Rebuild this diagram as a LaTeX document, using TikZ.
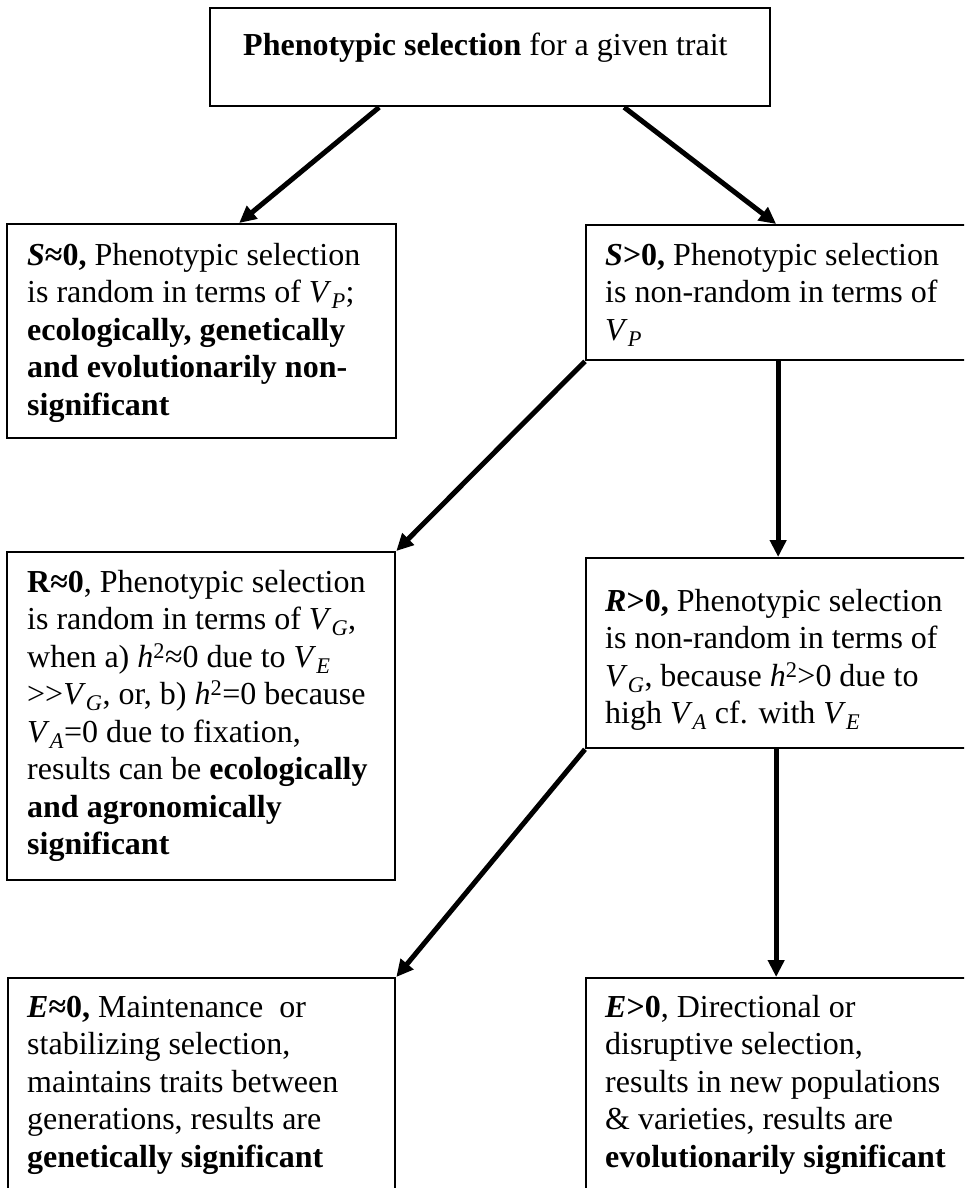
\documentclass[tikz,border=0pt]{standalone}
\usepackage{fontspec}
\setmainfont{Liberation Serif}
\usepackage{tikz}
\usetikzlibrary{arrows.meta}
\newcommand{\vsub}[2]{\textit{#1}\textsubscript{\textit{#2}}}
\newcommand{\hsq}{\textit{h}\textsuperscript{2}}

\begin{document}
\begin{tikzpicture}[x=1pt,y=1pt,yscale=-1,
    box/.style={draw, line width=2.3pt, anchor=north west, inner sep=0pt},
    txt/.style={anchor=north west, inner sep=0pt, align=left, font=\fontsize{32pt}{37.5pt}\selectfont},
    arr/.style={line width=5pt, -{Triangle[length=17pt,width=16pt]}}]
    \useasboundingbox (0,0) rectangle (964,1188);
    \clip (0,0) rectangle (964,1188);

    % Boxes
    \node[box, minimum width=560pt, minimum height=98pt] (top) at (209,7) {};
    \node[box, minimum width=389pt, minimum height=214pt] (s0) at (6,223) {};
    \node[box, minimum width=400pt, minimum height=135pt] (sg) at (585,224) {};
    \node[box, minimum width=388pt, minimum height=328pt] (r0) at (6,551) {};
    \node[box, minimum width=400pt, minimum height=190pt] (rg) at (585,557) {};
    \node[box, minimum width=387pt, minimum height=280pt] (e0) at (7,977) {};
    \node[box, minimum width=400pt, minimum height=280pt] (eg) at (585,977) {};

    % Text Node
    \node[txt] (toptxt) at (243,28.75) {\strut\textbf{Phenotypic selection} for a given trait};
    % Text Node
    \node[txt] (s0txt) at (27,238.75) {\strut\textbf{\textit{S}≈0,} Phenotypic selection\\is random in terms of \vsub{V}{P};\\\textbf{ecologically, genetically}\\\textbf{and evolutionarily non-}\\\textbf{significant}};
    % Text Node
    \node[txt] (sgtxt) at (605,238.75) {\strut\textbf{\textit{S}>0,} Phenotypic selection\\is non-random in terms of\\\vsub{V}{P}};
    % Text Node
    \node[txt] (r0txt) at (27,565.75) {\strut\textbf{R≈0}, Phenotypic selection\\is random in terms of \vsub{V}{G},\\when a) \hsq≈0 due to \vsub{V}{E}\\>{}>\vsub{V}{G}, or, b) \hsq=0 because\\\vsub{V}{A}=0 due to fixation,\\results can be \textbf{ecologically}\\\textbf{and agronomically}\\\textbf{significant}};
    % Text Node
    \node[txt] (rgtxt) at (605,584.75) {\strut\textbf{\textit{R}>0,} Phenotypic selection\\is non-random in terms of\\\vsub{V}{G}, because \hsq>0 due to\\high \vsub{V}{A} cf. with \vsub{V}{E}};
    % Text Node
    \node[txt] (e0txt) at (27,990.75) {\strut\textbf{\textit{E}≈0,} Maintenance\ \ or\\stabilizing selection,\\maintains traits between\\generations, results are\\\textbf{genetically significant}};
    % Text Node
    \node[txt] (egtxt) at (605,990.75) {\strut\textbf{\textit{E}>0}, Directional or\\disruptive selection,\\results in new populations\\\& varieties, results are\\\textbf{evolutionarily significant}};

    % Arrows
    \draw[arr] ([xshift=-111pt]top.south) -- ([xshift=37.5pt]s0.north);
    \draw[arr] ([xshift=134pt]top.south) -- ([xshift=-10pt]sg.north);
    \draw[arr] (sg.south west) -- (r0.north east);
    \draw[arr] ([xshift=-8pt]sg.south) -- ([xshift=-8pt]rg.north);
    \draw[arr] (rg.south west) -- (e0.north east);
    \draw[arr] ([xshift=-10pt]rg.south) -- ([xshift=-10pt]eg.north);
\end{tikzpicture}
\end{document}
